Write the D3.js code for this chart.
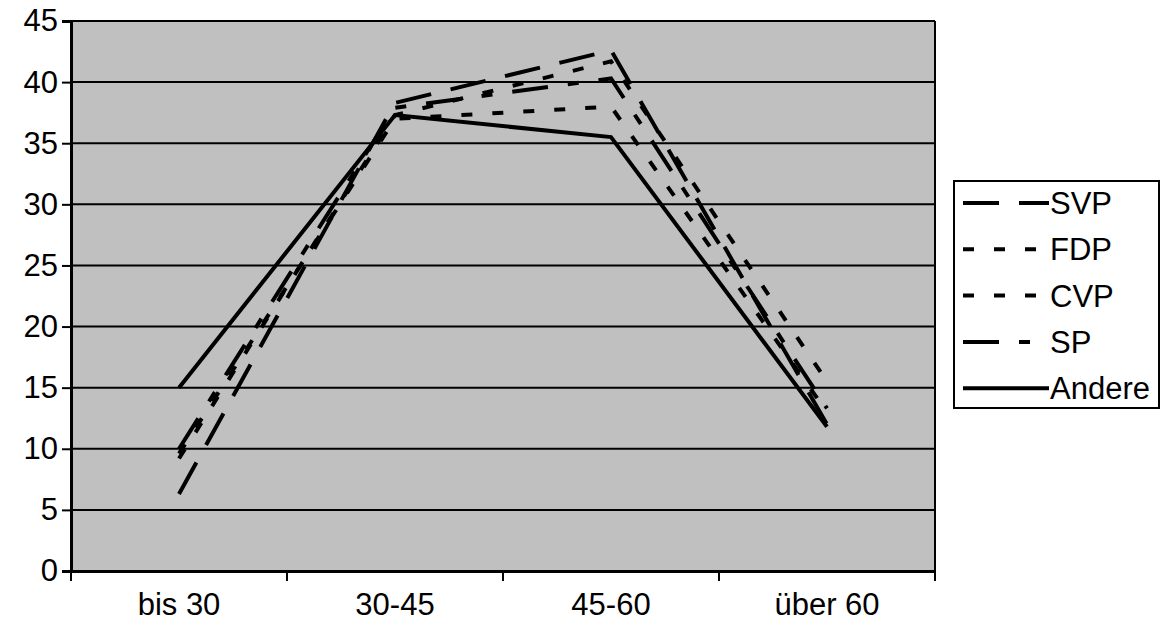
<!DOCTYPE html>
<html>
<head>
<meta charset="utf-8">
<script src="https://d3js.org/d3.v7.min.js"></script>
<style>
  body { margin: 0; background: #fff; }
  text { font-family: "Liberation Sans", Arial, sans-serif; }
</style>
</head>
<body>
<div id="chart"></div>
<script>
// categories and values
const categories = ['bis 30', '30-45', '45-60', 'über 60'];
const seriesNames = ['SVP', 'FDP', 'CVP', 'SP', 'Andere'];
const svp    = [6.3, 38.3, 42.6, 12.0];
const fdp    = [9.2, 37.3, 41.7, 15.5];
const cvp    = [9.6, 37.0, 38.0, 13.0];
const sp     = [10.0, 37.9, 40.3, 13.3];
const andere = [15.0, 37.3, 35.5, 11.8];
const yTicks = [0, 5, 10, 15, 20, 25, 30, 35, 40, 45];

const seriesValues = [svp, fdp, cvp, sp, andere];
// dash styles per series, same order as seriesNames
const dashes = ['36,20', '11,20', '11,20', '36,20,11,20', null];

const W = 1163, H = 633;
const margin = {left: 71, right: 228, top: 21, bottom: 62};
const width = W - margin.left - margin.right;
const height = H - margin.top - margin.bottom;
const fontSize = '31px';

const svg = d3.select('#chart').append('svg')
    .attr('width', W)
    .attr('height', H);

const g = svg.append('g')
    .attr('transform', `translate(${margin.left},${margin.top})`);

const x = d3.scaleBand().domain(categories).range([0, width]);
const y = d3.scaleLinear().domain([0, 45]).range([height, 0]);

// plot area
g.append('rect')
    .attr('width', width)
    .attr('height', height)
    .attr('fill', '#c0c0c0');

// gridlines
g.selectAll('.grid').data(yTicks.slice(1))
  .enter().append('line')
    .attr('x1', 0).attr('x2', width)
    .attr('y1', d => y(d)).attr('y2', d => y(d))
    .attr('stroke', '#000').attr('stroke-width', 2);

// right edge
g.append('line')
    .attr('x1', width).attr('x2', width)
    .attr('y1', 0).attr('y2', height)
    .attr('stroke', '#000').attr('stroke-width', 2);

// y axis
const yAxis = g.append('g')
    .call(d3.axisLeft(y).tickValues(yTicks).tickSize(9).tickPadding(4));
yAxis.select('.domain').attr('stroke-width', 3);
yAxis.selectAll('.tick line').attr('stroke-width', 2);
yAxis.selectAll('text').style('font-size', fontSize).attr('fill', '#000');

// x axis, ticks on band edges
const xAxis = g.append('g')
    .attr('transform', `translate(0,${height})`)
    .call(d3.axisBottom(x).tickSize(0).tickPadding(22));
xAxis.select('.domain').attr('stroke-width', 3);
xAxis.selectAll('text').style('font-size', fontSize).attr('fill', '#000');
g.append('g').selectAll('line')
  .data(categories.concat(['end']))
  .enter().append('line')
    .attr('x1', (d, i) => i < categories.length ? x(d) : width)
    .attr('x2', (d, i) => i < categories.length ? x(d) : width)
    .attr('y1', height).attr('y2', height + 10)
    .attr('stroke', '#000').attr('stroke-width', 2);

// series lines
const line = d3.line()
    .x((d, i) => x(categories[i]) + x.bandwidth() / 2)
    .y(d => y(d));

g.selectAll('.series').data(seriesValues)
  .enter().append('path')
    .attr('d', d => line(d))
    .attr('fill', 'none')
    .attr('stroke', '#000')
    .attr('stroke-width', 4)
    .attr('stroke-dasharray', (d, i) => dashes[i]);

// legend
const legend = svg.append('g').attr('transform', 'translate(954,181)');
legend.append('rect')
    .attr('width', 205).attr('height', 227)
    .attr('fill', '#fff').attr('stroke', '#000').attr('stroke-width', 2);

const item = legend.selectAll('.item').data(seriesNames)
  .enter().append('g')
    .attr('transform', (d, i) => `translate(0,${22 + i * 46.3})`);
item.append('line')
    .attr('x1', 9).attr('x2', 95)
    .attr('stroke', '#000').attr('stroke-width', 4)
    .attr('stroke-dasharray', (d, i) => dashes[i]);
item.append('text')
    .attr('x', 96).attr('dy', '0.36em')
    .style('font-size', fontSize)
    .text(d => d);
</script>
</body>
</html>
